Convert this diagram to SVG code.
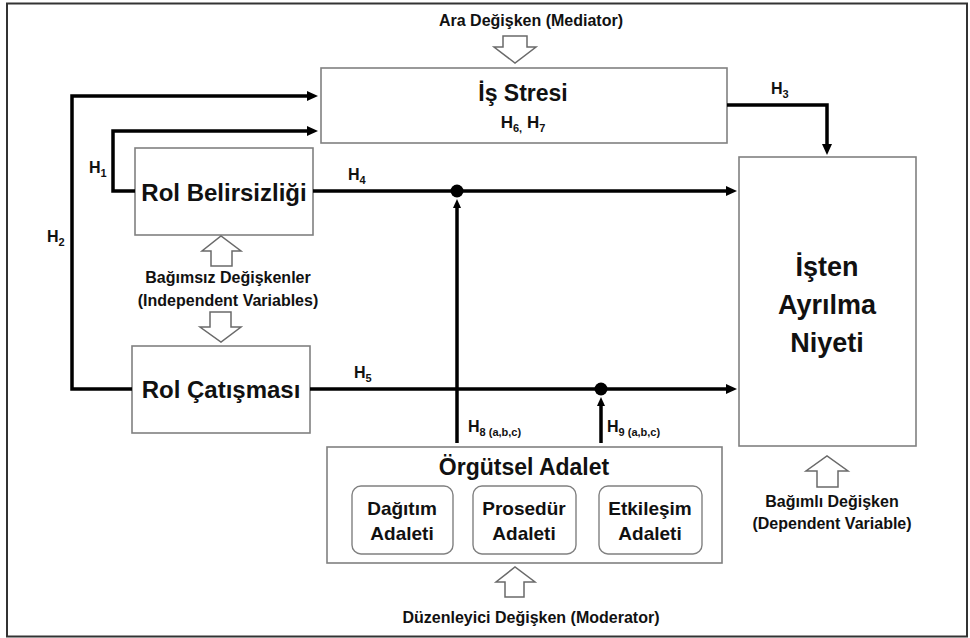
<svg xmlns="http://www.w3.org/2000/svg" width="970" height="638" viewBox="0 0 970 638">
<style>
text{font-family:"Liberation Sans",Arial,sans-serif;font-weight:bold;fill:#111;text-anchor:middle}
.box{fill:#fff;stroke:#808080;stroke-width:1.6}
.rbox{fill:#fff;stroke:#808080;stroke-width:1.4}
.con{fill:none;stroke:#000;stroke-width:3.5}
.hol{fill:#fff;stroke:#6a6a6a;stroke-width:1.5;stroke-linejoin:miter}
.lab{font-size:16px}
.h{font-size:16px;text-anchor:start}
.sub{font-size:11px}
</style>
<defs>
<marker id="ah" viewBox="0 0 11 10" refX="3" refY="5" markerWidth="11" markerHeight="10" markerUnits="userSpaceOnUse" orient="auto">
<path d="M0,0 L11,5 L0,10 z" fill="#000"/>
</marker>
<marker id="ahs" viewBox="0 0 9 8" refX="3" refY="4" markerWidth="9" markerHeight="8" markerUnits="userSpaceOnUse" orient="auto">
<path d="M0,0 L9,4 L0,8 z" fill="#000"/>
</marker>
</defs>
<rect x="0" y="0" width="970" height="638" fill="#fff"/>
<rect x="7" y="3.5" width="960" height="633" fill="none" stroke="#333" stroke-width="2"/>

<g id="mediator-label">
<text class="lab" x="531" y="26">Ara Değişken (Mediator)</text>
<path class="hol" d="M503,36 H527 V47 H536 L515,63 L494,47 H503 Z"/>
</g>

<g id="is-stresi">
<rect class="box" x="321" y="68" width="406" height="75"/>
<text x="523" y="101" font-size="23">İş Stresi</text>
<text x="523" y="128" font-size="17">H<tspan class="sub" dy="4">6,</tspan><tspan dy="-4"> H</tspan><tspan class="sub" dy="4">7</tspan></text>
</g>

<g id="rol-belirsizligi">
<rect class="box" x="135" y="148" width="178" height="87"/>
<text x="224" y="201" font-size="24">Rol Belirsizliği</text>
</g>

<g id="independent-label">
<path class="hol" d="M211,266 V251 H202 L221,236 L241,251 H232 V266 Z"/>
<text class="lab" x="228" y="283">Bağımsız Değişkenler</text>
<text class="lab" x="228" y="306">(Independent Variables)</text>
<path class="hol" d="M210,312 H231 V327 H241 L221,342 L200,327 H210 Z"/>
</g>

<g id="rol-catismasi">
<rect class="box" x="132" y="346" width="178" height="87"/>
<text x="221" y="398" font-size="24">Rol Çatışması</text>
</g>

<g id="isten-ayrilma-niyeti">
<rect class="box" x="739" y="157" width="177" height="289"/>
<text x="827" y="276" font-size="27">İşten</text>
<text x="827" y="314" font-size="27">Ayrılma</text>
<text x="827" y="352" font-size="27">Niyeti</text>
</g>

<g id="dependent-label">
<path class="hol" d="M817,487 V471 H806 L827,456 L848,471 H838 V487 Z"/>
<text class="lab" x="832" y="507">Bağımlı Değişken</text>
<text class="lab" x="832" y="529">(Dependent Variable)</text>
</g>

<g id="orgutsel-adalet">
<rect class="box" x="327" y="447" width="395" height="116"/>
<text x="524" y="475" font-size="23">Örgütsel Adalet</text>
<g id="dagitim-adaleti">
<rect class="rbox" x="352" y="486" width="101" height="68" rx="9"/>
<text x="402" y="515" font-size="19">Dağıtım</text>
<text x="402" y="540" font-size="19">Adaleti</text>
</g>
<g id="prosedur-adaleti">
<rect class="rbox" x="473" y="486" width="103" height="68" rx="9"/>
<text x="524" y="515" font-size="19">Prosedür</text>
<text x="524" y="540" font-size="19">Adaleti</text>
</g>
<g id="etkilesim-adaleti">
<rect class="rbox" x="599" y="486" width="103" height="68" rx="9"/>
<text x="650" y="515" font-size="19">Etkileşim</text>
<text x="650" y="540" font-size="19">Adaleti</text>
</g>
</g>

<g id="moderator-label">
<path class="hol" d="M505,597 V582 H496 L515,567 L535,582 H524 V597 Z"/>
<text class="lab" x="531" y="623">Düzenleyici Değişken (Moderator)</text>
</g>

<g id="connectors">
<path class="con" d="M132,389 H72 V96 H310" marker-end="url(#ah)"/>
<path class="con" d="M135,191 H113 V131 H310" marker-end="url(#ah)"/>
<path class="con" d="M727,105 H827 V147" marker-end="url(#ah)"/>
<path class="con" d="M313,191 H729" marker-end="url(#ah)"/>
<path class="con" d="M310,389 H729" marker-end="url(#ah)"/>
<path class="con" d="M457,443 V205" marker-end="url(#ahs)"/>
<path class="con" d="M601,443 V403" marker-end="url(#ahs)"/>
<circle cx="457" cy="191" r="6.5" fill="#000"/>
<circle cx="601" cy="389" r="6.5" fill="#000"/>
</g>

<g id="labels">
<text class="h" x="89" y="173">H<tspan class="sub" dy="4">1</tspan></text>
<text class="h" x="47" y="242">H<tspan class="sub" dy="4">2</tspan></text>
<text class="h" x="771" y="94">H<tspan class="sub" dy="4">3</tspan></text>
<text class="h" x="348" y="180">H<tspan class="sub" dy="4">4</tspan></text>
<text class="h" x="354" y="378">H<tspan class="sub" dy="4">5</tspan></text>
<text class="h" x="468" y="432">H<tspan class="sub" dy="4">8 (a,b,c)</tspan></text>
<text class="h" x="607" y="432">H<tspan class="sub" dy="4">9 (a,b,c)</tspan></text>
</g>
</svg>
